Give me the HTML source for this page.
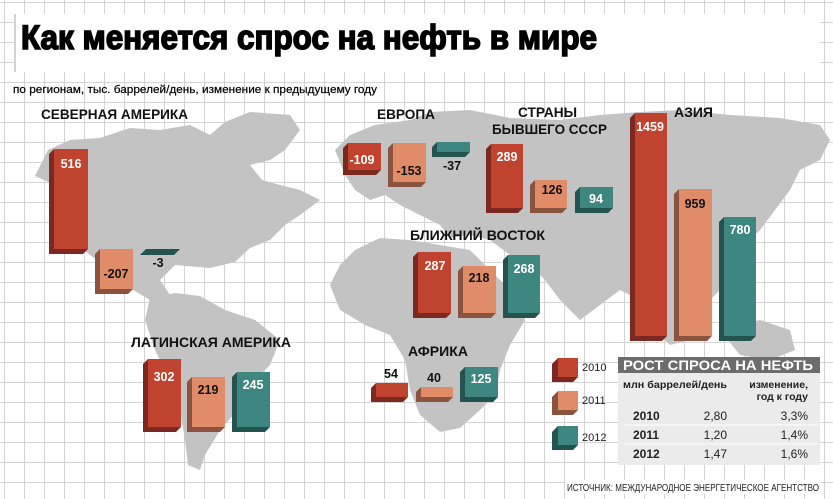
<!DOCTYPE html>
<html><head><meta charset="utf-8"><style>
html,body{margin:0;padding:0;background:#fff}
svg{display:block}
text{font-family:"Liberation Sans","DejaVu Sans",sans-serif}
</style></head><body>
<svg width="833" height="499" viewBox="0 0 833 499" xmlns="http://www.w3.org/2000/svg">
<defs>
<pattern id="g" x="4" y="2" width="20" height="20" patternUnits="userSpaceOnUse">
<path d="M0 0H20M0 0V20" stroke="#c6c6c6" stroke-width="1.5" fill="none"/>
</pattern>
</defs>
<rect width="833" height="499" fill="#fff"/>
<rect width="833" height="499" fill="url(#g)"/>
<rect x="15" y="14" width="805" height="58" fill="#fff"/>
<line x1="15" y1="14" x2="15" y2="72" stroke="#c6c6c6" stroke-width="1.5"/>
<text x="21" y="49" font-size="34" font-weight="bold" stroke="#000" stroke-width="1.6" textLength="576" lengthAdjust="spacingAndGlyphs">Как меняется спрос на нефть в мире</text>
<text x="13" y="93" font-size="11" stroke="#000" stroke-width="0.2" textLength="364" lengthAdjust="spacingAndGlyphs">по регионам, тыс. баррелей/день, изменение к предыдущему году</text>

<g fill="#c3c3c3">
<path d="M35,176 L48,150 L70,140 L100,138 L130,128 L160,130 L190,125 L210,135 L225,122 L250,112 L290,115 L300,130 L285,150 L270,160 L250,165 L262,180 L280,185 L300,190 L320,200 L300,215 L285,225 L270,240 L250,248 L235,262 L210,268 L175,265 L160,280 L170,295 L150,300 L130,288 L110,270 L90,255 L70,240 L60,210 L55,185 Z"/>
<path d="M150,298 L175,293 L200,296 L225,310 L255,320 L280,340 L270,365 L250,385 L238,410 L220,430 L205,455 L200,470 L188,465 L185,440 L180,410 L170,380 L155,350 L145,320 Z"/>
<path d="M335,150 L350,135 L375,125 L410,120 L430,112 L470,110 L510,118 L560,120 L600,115 L640,112 L680,110 L730,115 L780,118 L820,125 L830,140 L820,160 L800,170 L790,190 L775,210 L760,230 L745,245 L740,270 L720,290 L700,310 L690,340 L670,345 L650,325 L640,300 L620,290 L600,305 L580,320 L560,300 L545,280 L530,265 L510,255 L490,240 L470,235 L450,238 L440,225 L420,215 L400,205 L385,195 L370,200 L355,190 L345,175 Z"/>
<path d="M355,250 L380,238 L410,240 L440,245 L470,250 L495,275 L520,300 L525,320 L510,345 L500,370 L495,395 L480,410 L460,428 L440,432 L420,415 L410,390 L405,360 L390,335 L365,325 L340,310 L330,285 L340,265 Z"/>
<path d="M720,330 L760,320 L790,330 L795,350 L770,360 L740,355 Z"/>
</g>

<g>
<polygon points="54,149 49,154 49,254 83,254 88,249 88,149" fill="#7a2820"/><rect x="54" y="149" width="34" height="100" fill="#c0432f"/>
<polygon points="100,249 95,254 95,294 128,294 133,289 133,249" fill="#8a5440"/><rect x="100" y="249" width="33" height="40" fill="#e08c68"/>
<polygon points="140,255 146,249 180,249 174,255" fill="#24524e"/>
<polygon points="348,143 343,148 343,175 376,175 381,170 381,143" fill="#7a2820"/><rect x="348" y="143" width="33" height="27" fill="#c0432f"/>
<polygon points="393,143 388,148 388,187 421,187 426,182 426,143" fill="#8a5440"/><rect x="393" y="143" width="33" height="39" fill="#e08c68"/>
<polygon points="437,142 432,147 432,157 465,157 470,152 470,142" fill="#24524e"/><rect x="437" y="142" width="33" height="10" fill="#3e8680"/>
<polygon points="491,144 486,149 486,213 518,213 523,208 523,144" fill="#7a2820"/><rect x="491" y="144" width="32" height="64" fill="#c0432f"/>
<polygon points="535,180 530,185 530,213 562,213 567,208 567,180" fill="#8a5440"/><rect x="535" y="180" width="32" height="28" fill="#e08c68"/>
<polygon points="580,187 575,192 575,213 608,213 613,208 613,187" fill="#24524e"/><rect x="580" y="187" width="33" height="21" fill="#3e8680"/>
<polygon points="635,113 630,118 630,341 662,341 667,336 667,113" fill="#7a2820"/><rect x="635" y="113" width="32" height="223" fill="#c0432f"/>
<polygon points="679,189 674,194 674,341 707,341 712,336 712,189" fill="#8a5440"/><rect x="679" y="189" width="33" height="147" fill="#e08c68"/>
<polygon points="724,217 719,222 719,341 751,341 756,336 756,217" fill="#24524e"/><rect x="724" y="217" width="32" height="119" fill="#3e8680"/>
<polygon points="418,252 413,257 413,318 446,318 451,313 451,252" fill="#7a2820"/><rect x="418" y="252" width="33" height="61" fill="#c0432f"/>
<polygon points="463,266 458,271 458,318 491,318 496,313 496,266" fill="#8a5440"/><rect x="463" y="266" width="33" height="47" fill="#e08c68"/>
<polygon points="508,255 503,260 503,318 535,318 540,313 540,255" fill="#24524e"/><rect x="508" y="255" width="32" height="58" fill="#3e8680"/>
<polygon points="148,359 143,364 143,432 176,432 181,427 181,359" fill="#7a2820"/><rect x="148" y="359" width="33" height="68" fill="#c0432f"/>
<polygon points="192,377 187,382 187,432 220,432 225,427 225,377" fill="#8a5440"/><rect x="192" y="377" width="33" height="50" fill="#e08c68"/>
<polygon points="237,372 232,377 232,432 265,432 270,427 270,372" fill="#24524e"/><rect x="237" y="372" width="33" height="55" fill="#3e8680"/>
<polygon points="376,383 371,388 371,402 403,402 408,397 408,383" fill="#7a2820"/><rect x="376" y="383" width="32" height="14" fill="#c0432f"/>
<polygon points="421,387 416,392 416,402 448,402 453,397 453,387" fill="#8a5440"/><rect x="421" y="387" width="32" height="10" fill="#e08c68"/>
<polygon points="465,367 460,372 460,402 493,402 498,397 498,367" fill="#24524e"/><rect x="465" y="367" width="33" height="30" fill="#3e8680"/>
</g>

<g font-size="12.5" font-weight="bold" text-anchor="middle">
<text x="71" y="168" fill="#fff">516</text>
<text x="116" y="278" fill="#111">-207</text>
<text x="158" y="267" fill="#111">-3</text>
<text x="362" y="164" fill="#fff">-109</text>
<text x="409" y="175" fill="#111">-153</text>
<text x="452" y="170" fill="#111">-37</text>
<text x="507" y="161" fill="#fff">289</text>
<text x="552" y="194" fill="#111">126</text>
<text x="596" y="203" fill="#fff">94</text>
<text x="650" y="131" fill="#fff">1459</text>
<text x="695" y="208" fill="#111">959</text>
<text x="740" y="234" fill="#fff">780</text>
<text x="435" y="270" fill="#fff">287</text>
<text x="479" y="282" fill="#111">218</text>
<text x="524" y="273" fill="#fff">268</text>
<text x="164" y="381" fill="#fff">302</text>
<text x="208" y="394" fill="#111">219</text>
<text x="253" y="389" fill="#fff">245</text>
<text x="391" y="378" fill="#111">54</text>
<text x="434" y="382" fill="#111">40</text>
<text x="481" y="383" fill="#fff">125</text>
</g>

<g font-size="14" font-weight="bold" fill="#111">
<text x="41" y="119" textLength="147" lengthAdjust="spacingAndGlyphs">СЕВЕРНАЯ АМЕРИКА</text>
<text x="377" y="119" textLength="58" lengthAdjust="spacingAndGlyphs">ЕВРОПА</text>
<text x="518" y="117" textLength="59" lengthAdjust="spacingAndGlyphs">СТРАНЫ</text>
<text x="492" y="134" textLength="115" lengthAdjust="spacingAndGlyphs">БЫВШЕГО СССР</text>
<text x="674" y="117" textLength="39" lengthAdjust="spacingAndGlyphs">АЗИЯ</text>
<text x="410" y="240" textLength="135" lengthAdjust="spacingAndGlyphs">БЛИЖНИЙ ВОСТОК</text>
<text x="131" y="347" textLength="160" lengthAdjust="spacingAndGlyphs">ЛАТИНСКАЯ АМЕРИКА</text>
<text x="408" y="356" textLength="60" lengthAdjust="spacingAndGlyphs">АФРИКА</text>
</g>

<polygon points="558,358 552,364 552,382 573,382 578,377 578,358" fill="#7a2820"/><rect x="558" y="358" width="20" height="19" fill="#c0432f"/>
<polygon points="558,391 552,397 552,415 573,415 578,410 578,391" fill="#8a5440"/><rect x="558" y="391" width="20" height="19" fill="#e08c68"/>
<polygon points="558,426 552,432 552,450 573,450 578,445 578,426" fill="#24524e"/><rect x="558" y="426" width="20" height="19" fill="#3e8680"/>
<g font-size="11" fill="#222">
<text x="582" y="371">2010</text><text x="582" y="404">2011</text><text x="582" y="441">2012</text>
</g>

<rect x="618" y="357" width="202" height="16" fill="#6c6c6c"/>
<text x="623" y="370" font-size="14" font-weight="bold" fill="#fff" textLength="190" lengthAdjust="spacingAndGlyphs">РОСТ СПРОСА НА НЕФТЬ</text>
<rect x="618" y="373" width="202" height="92" fill="#ebebeb"/>
<g font-size="10.5" font-weight="bold" fill="#222">
<text x="623" y="388" textLength="104" lengthAdjust="spacingAndGlyphs">млн баррелей/день</text>
<text x="808" y="388" text-anchor="end">изменение,</text>
<text x="808" y="400" text-anchor="end">год к году</text>
</g>
<line x1="625" y1="425" x2="818" y2="425" stroke="#fff" stroke-width="1"/>
<line x1="625" y1="444" x2="818" y2="444" stroke="#fff" stroke-width="1"/>
<g font-size="12" fill="#222">
<text x="633" y="420" font-weight="bold">2010</text><text x="727" y="420" text-anchor="end">2,80</text><text x="808" y="420" text-anchor="end">3,3%</text>
<text x="633" y="439" font-weight="bold">2011</text><text x="727" y="439" text-anchor="end">1,20</text><text x="808" y="439" text-anchor="end">1,4%</text>
<text x="633" y="458" font-weight="bold">2012</text><text x="727" y="458" text-anchor="end">1,47</text><text x="808" y="458" text-anchor="end">1,6%</text>
</g>
<rect x="565" y="480" width="255" height="14" fill="#fff"/>
<text x="567" y="491" font-size="10" fill="#222" textLength="252" lengthAdjust="spacingAndGlyphs">ИСТОЧНИК: МЕЖДУНАРОДНОЕ ЭНЕРГЕТИЧЕСКОЕ АГЕНТСТВО</text>
</svg>
</body></html>
